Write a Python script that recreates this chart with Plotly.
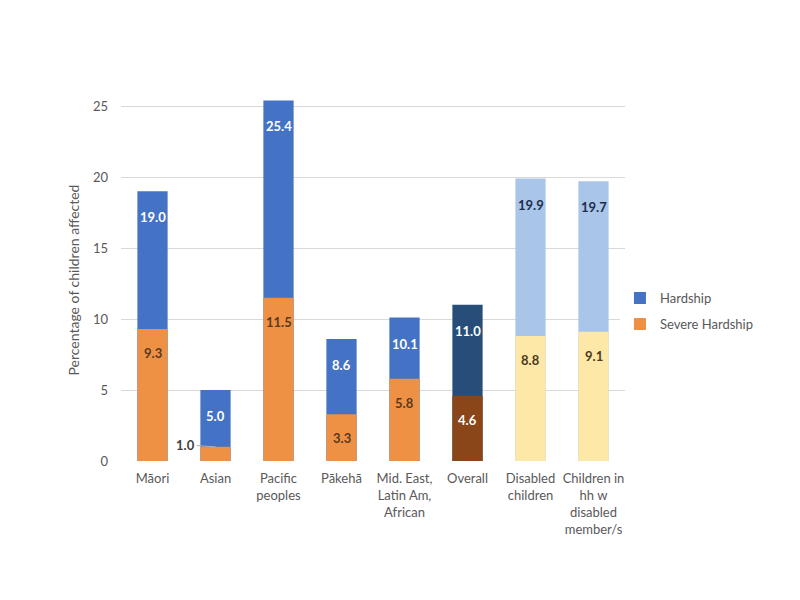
import plotly.graph_objects as go

categories = ["Māori", "Asian", "Pacific<br>peoples", "Pākehā",
              "Mid. East,<br>Latin Am,<br>African", "Overall",
              "Disabled<br>children", "Children in<br>hh w<br>disabled<br>member/s"]
hardship = [19.0, 5.0, 25.4, 8.6, 10.1, 11.0, 19.9, 19.7]
severe = [9.3, 1.0, 11.5, 3.3, 5.8, 4.6, 8.8, 9.1]

hardship_colors = ["#4472C4"] * 5 + ["#264E78", "#A9C6E8", "#A9C6E8"]
severe_colors = ["#EE9145"] * 5 + ["#8A4618", "#FDE8A8", "#FDE8A8"]
hardship_text_colors = ["white"] * 6 + ["#1F2D4D", "#1F2D4D"]
severe_text_colors = ["#5A3A20"] * 5 + ["white", "#4A3A20", "#4A3A20"]

FONT = "Lato, Open Sans, sans-serif"

fig = go.Figure()
fig.add_trace(go.Bar(x=categories, y=hardship, name="Hardship",
                     marker=dict(color=hardship_colors, line=dict(width=0)),
                     width=0.48, legendgroup="a"))
fig.add_trace(go.Bar(x=categories, y=severe, name="Severe Hardship",
                     marker=dict(color=severe_colors, line=dict(width=0)),
                     width=0.48, legendgroup="b"))

annotations = []
for i, (c, v) in enumerate(zip(categories, hardship)):
    annotations.append(dict(x=c, y=v, text=f"<b>{v:.1f}</b>", showarrow=False,
                            yshift=-26, font=dict(color=hardship_text_colors[i], size=13, family=FONT)))
for i, (c, v) in enumerate(zip(categories, severe)):
    if i == 1:
        annotations.append(dict(x=c, y=v, text=f"<b>{v:.1f}</b>", showarrow=True,
                                arrowhead=0, arrowwidth=1, arrowcolor="#B0B0B0",
                                ax=-30, ay=-2, font=dict(color="#404040", size=13, family=FONT)))
    else:
        annotations.append(dict(x=c, y=v, text=f"<b>{v:.1f}</b>", showarrow=False,
                                yshift=-24, font=dict(color=severe_text_colors[i], size=13, family=FONT)))

fig.update_layout(
    barmode="overlay",
    width=800, height=600,
    paper_bgcolor="white", plot_bgcolor="white",
    margin=dict(l=113, r=183, t=91, b=147),
    font=dict(family=FONT, size=13, color="#595959"),
    showlegend=True,
    legend=dict(x=0.99, y=0.414, xanchor="left", yanchor="middle",
                itemwidth=30, tracegroupgap=6, font=dict(size=13, color="#595959")),
    annotations=annotations,
    bargap=0.52,
)
fig.update_yaxes(range=[0, 25.5], dtick=5, showgrid=True, gridcolor="#D9D9D9",
                 gridwidth=1, zeroline=False, showline=False,
                 ticklabelstandoff=12,
                 title=dict(text="Percentage of children affected", standoff=10,
                            font=dict(size=14, color="#595959")),
                 tickfont=dict(size=13, color="#595959"))
fig.update_xaxes(showgrid=False, showline=False, ticklabelstandoff=8,
                 tickfont=dict(size=13, color="#595959"))

fig.write_html("out.html")
